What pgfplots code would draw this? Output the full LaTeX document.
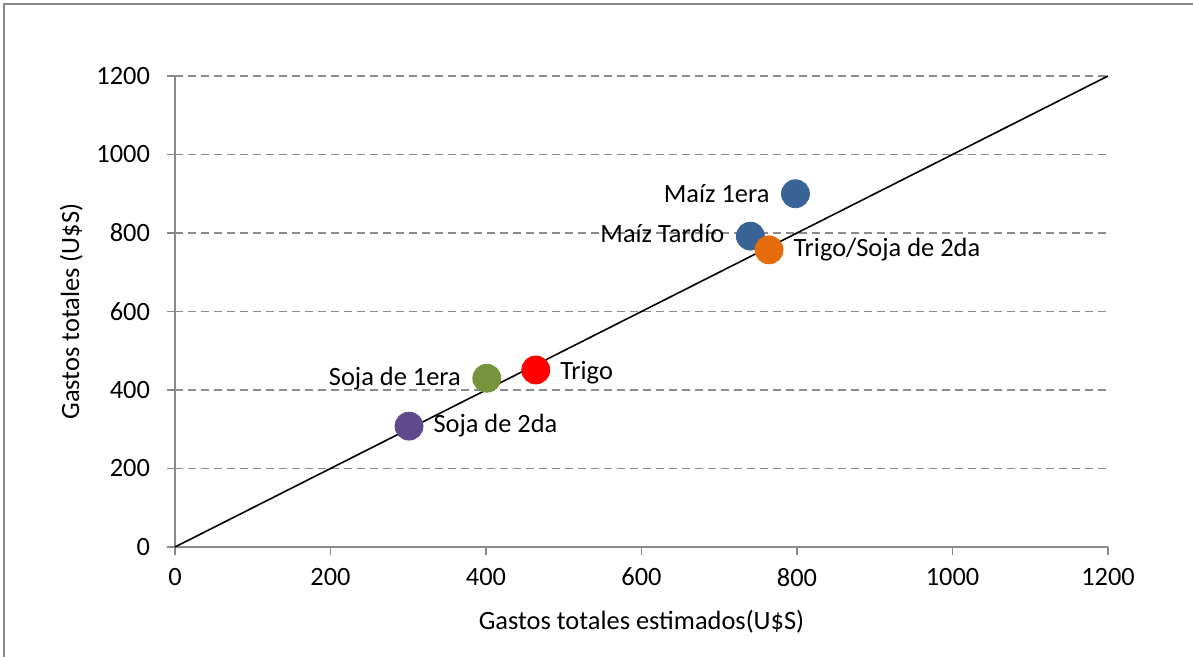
\documentclass[border=0pt]{standalone}
\usepackage{pgfplots}
\pgfplotsset{compat=1.18}
\usepackage{fontspec}
\setmainfont{Carlito}
\definecolor{cblue}{HTML}{3A6496}
\definecolor{corange}{HTML}{E46C0A}
\definecolor{cred}{HTML}{FF0000}
\definecolor{cgreen}{HTML}{77933C}
\definecolor{cpurple}{HTML}{5F4B8B}
\definecolor{axgray}{HTML}{898989}
\definecolor{gridgray}{HTML}{8C8C8C}
\begin{document}
\begin{tikzpicture}[x=0.5pt,y=0.5pt]
\useasboundingbox (-175,-110) rectangle (1018,547);
\draw[axgray, line width=1pt] (-171,-130) rectangle (1040,543);
\begin{axis}[
  at={(0,0)}, anchor=origin,
  scale only axis, width=466.5pt, height=235.5pt,
  xmin=0, xmax=1200, ymin=0, ymax=1200,
  xtick={0,200,...,1200}, ytick={0,200,...,1200},
  axis lines=left, axis line style={axgray, line width=0.8pt, -},
  tick style={axgray, line width=0.8pt},
  tick align=outside, major tick length=4pt,
  ymajorgrids, grid style={gridgray, dash pattern=on 4pt off 2.5pt, line width=0.7pt},
  font=\fontsize{13.2}{15}\selectfont,
  /pgf/number format/assume math mode=true,
  /pgf/number format/1000 sep={},
  xticklabel style={yshift=-3pt},
  yticklabel style={xshift=-5pt},
  xlabel={Gastos totales estimados(U\$S)},
  ylabel={Gastos totales (U\$S)},
  xlabel style={yshift=-5pt},
  ylabel style={yshift=0pt},
  clip=false,
]
\addplot[black, line width=0.8pt] coordinates {(0,0) (1200,1200)};
\addplot[only marks, mark=*, mark size=7pt, color=cblue, mark options={draw=none, fill=cblue}] coordinates {(798,900) (740,792)};
\addplot[only marks, mark=*, mark size=7pt, color=corange, mark options={draw=none, fill=corange}] coordinates {(764,757)};
\addplot[only marks, mark=*, mark size=7pt, color=cred, mark options={draw=none, fill=cred}] coordinates {(464,451)};
\addplot[only marks, mark=*, mark size=7pt, color=cgreen, mark options={draw=none, fill=cgreen}] coordinates {(401,430)};
\addplot[only marks, mark=*, mark size=7pt, color=cpurple, mark options={draw=none, fill=cpurple}] coordinates {(301,308)};
\node[anchor=east, inner sep=0pt] at (axis cs:765,900) {Maíz 1era};
\node[anchor=east, inner sep=0pt] at (axis cs:707,800) {Maíz Tardío};
\node[anchor=west, inner sep=0pt] at (axis cs:795,757) {Trigo/Soja de 2da};
\node[anchor=west, inner sep=0pt] at (axis cs:495,443) {Trigo};
\node[anchor=east, inner sep=0pt] at (axis cs:368,430) {Soja de 1era};
\node[anchor=west, inner sep=0pt] at (axis cs:332,310) {Soja de 2da};
\end{axis}
\end{tikzpicture}
\end{document}
